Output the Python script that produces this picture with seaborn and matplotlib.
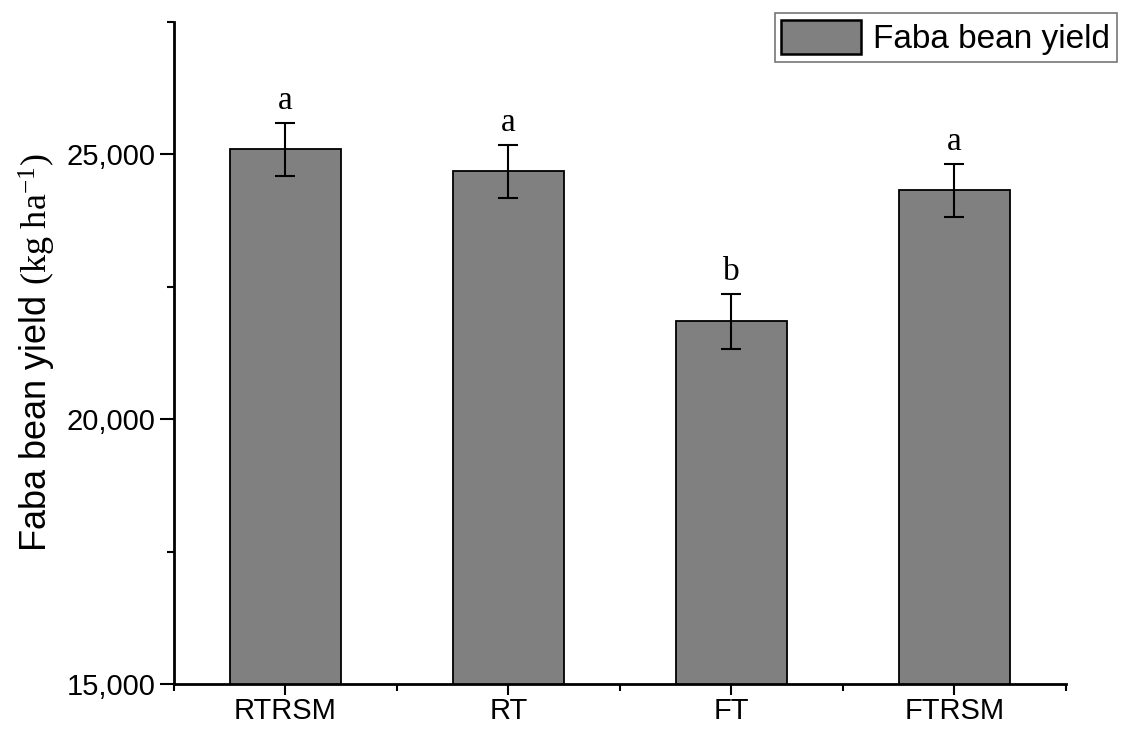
import seaborn as sns
import matplotlib.pyplot as plt
import matplotlib.patches as mpatches
from matplotlib.ticker import FixedLocator, FuncFormatter
import pandas as pd

# data
treatments = ["RTRSM", "RT", "FT", "FTRSM"]
yields = [25100, 24680, 21850, 24320]
errors = [500, 500, 520, 500]
letters = ["a", "a", "b", "a"]

df = pd.DataFrame({"treatment": treatments, "yield": yields})

sns.set_style("ticks", {"axes.edgecolor": "black", "text.color": "black",
                        "xtick.color": "black", "ytick.color": "black",
                        "axes.labelcolor": "black"})
plt.rcParams['font.family'] = ['Liberation Sans', 'DejaVu Sans']
plt.rcParams['mathtext.fontset'] = 'custom'
plt.rcParams['mathtext.rm'] = 'Liberation Serif'
plt.rcParams['mathtext.it'] = 'Liberation Serif:italic'

fig = plt.figure(figsize=(11.26, 7.29), dpi=100)
ax = fig.add_axes([0.1545, 0.0617, 0.792, 0.908])

sns.barplot(data=df, x="treatment", y="yield", color="#808080", saturation=1,
            edgecolor="black", linewidth=1.3, width=0.5, ax=ax)
ax.errorbar(range(len(treatments)), yields, yerr=errors, fmt="none",
            ecolor="black", elinewidth=1.5, capsize=7, capthick=1.5)

for i, (y, e, l) in enumerate(zip(yields, errors, letters)):
    ax.annotate(l, (i, y + e), xytext=(0, 5), textcoords="offset points",
                ha="center", va="bottom", fontsize=24, family="Liberation Serif")

ax.set_ylim(15000, 27500)
ax.set_xlim(-0.5, 3.5)
ax.yaxis.set_major_locator(FixedLocator([15000, 20000, 25000]))
ax.yaxis.set_minor_locator(FixedLocator([17500, 22500, 27500]))
ax.yaxis.set_major_formatter(FuncFormatter(lambda v, p: f"{int(v):,}"))
ax.xaxis.set_minor_locator(FixedLocator([-0.5, 0.5, 1.5, 2.5, 3.5]))

ax.set_xlabel("")
ax.set_ylabel(r"Faba bean yield $\mathrm{(kg\ ha^{-1})}$", fontsize=26, labelpad=6)
ax.tick_params(axis="both", which="major", labelsize=21, length=10, width=1.5,
               direction="out", colors="black")
ax.tick_params(axis="x", which="major", length=8, pad=1)
ax.tick_params(axis="both", which="minor", length=5, width=1.5, direction="out")
for s in ["top", "right"]:
    ax.spines[s].set_visible(False)
for s in ["left", "bottom"]:
    ax.spines[s].set_linewidth(2)

handle = mpatches.Patch(facecolor="#808080", edgecolor="black", linewidth=1.8, label="Faba bean yield")
leg = fig.legend(handles=[handle], loc="upper left", bbox_to_anchor=(0.688, 0.982),
                 fontsize=24, frameon=True, fancybox=False, edgecolor="#555555",
                 handlelength=2.4, handleheight=1.2, handletextpad=0.35,
                 borderpad=0.2, borderaxespad=0)
leg.get_frame().set_linewidth(1.2)

plt.savefig("out.png", dpi=100)
